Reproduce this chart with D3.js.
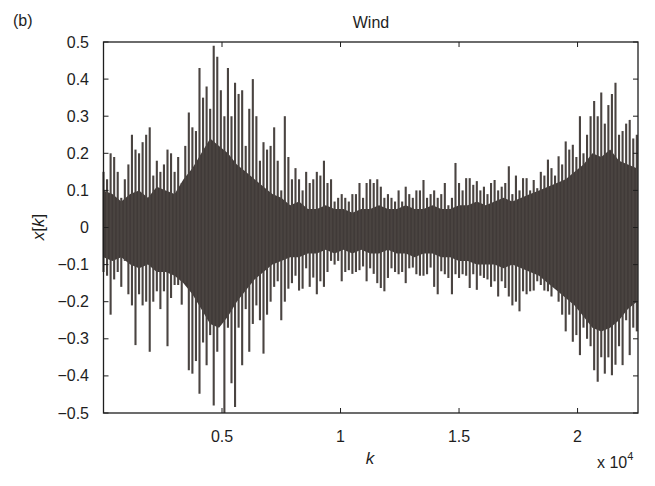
<!DOCTYPE html>
<html><head><meta charset="utf-8">
<script src="https://cdn.jsdelivr.net/npm/d3@7"></script>
<style>
body{margin:0;background:#fff;}
svg text{font-family:"Liberation Sans",Arial,Helvetica,sans-serif;fill:#1e1e1e;}
</style></head>
<body><svg id="c" width="655" height="486"></svg>
<script>
// sample index step for peak arrays (k units)
const peakStep = 150;
// upper spike peaks, k = 0,150,...,22500
const upperPeaks = [0.15,0.13,0.2,0.19,0.15,0.08,0.13,0.17,0.25,0.21,0.2,0.23,0.25,0.27,0.14,0.18,0.15,0.17,0.21,0.2,
0.15,0.19,0.12,0.22,0.31,0.27,0.26,0.43,0.35,0.38,0.32,0.49,0.46,0.37,0.3,0.43,0.3,0.39,0.36,0.37,
0.22,0.32,0.4,0.3,0.18,0.23,0.21,0.22,0.27,0.18,0.1,0.3,0.19,0.13,0.16,0.13,0.1,0.15,0.12,0.13,
0.15,0.14,0.18,0.12,0.13,0.07,0.08,0.09,0.08,0.07,0.09,0.09,0.12,0.08,0.12,0.13,0.12,0.13,0.11,0.08,
0.09,0.08,0.07,0.1,0.07,0.11,0.09,0.08,0.1,0.1,0.128,0.08,0.09,0.1,0.08,0.09,0.12,0.06,0.08,0.174,
0.12,0.1,0.133,0.133,0.115,0.125,0.1,0.11,0.09,0.12,0.128,0.1,0.11,0.12,0.165,0.09,0.14,0.1,0.133,0.133,
0.1,0.128,0.106,0.15,0.14,0.183,0.16,0.14,0.192,0.17,0.232,0.21,0.223,0.19,0.3,0.2,0.25,0.3,0.341,0.3,
0.364,0.28,0.33,0.36,0.39,0.25,0.26,0.28,0.29,0.24,0.25];
// lower spike peaks, same k positions
const lowerPeaks = [-0.12,-0.13,-0.235,-0.14,-0.12,-0.16,-0.09,-0.18,-0.21,-0.317,-0.18,-0.21,-0.2,-0.335,-0.2,-0.172,-0.22,-0.172,-0.32,-0.19,
-0.155,-0.155,-0.208,-0.15,-0.385,-0.394,-0.36,-0.448,-0.31,-0.371,-0.29,-0.48,-0.335,-0.26,-0.5,-0.27,-0.42,-0.484,-0.27,-0.371,
-0.22,-0.335,-0.26,-0.21,-0.25,-0.34,-0.235,-0.2,-0.16,-0.145,-0.25,-0.2,-0.165,-0.15,-0.13,-0.17,-0.165,-0.11,-0.16,-0.135,
-0.18,-0.145,-0.16,-0.12,-0.09,-0.1,-0.09,-0.145,-0.12,-0.115,-0.125,-0.12,-0.115,-0.105,-0.145,-0.11,-0.125,-0.15,-0.163,-0.172,
-0.136,-0.11,-0.12,-0.126,-0.12,-0.15,-0.11,-0.108,-0.126,-0.13,-0.13,-0.126,-0.108,-0.16,-0.18,-0.118,-0.126,-0.136,-0.18,-0.126,
-0.136,-0.126,-0.13,-0.163,-0.126,-0.168,-0.13,-0.136,-0.14,-0.16,-0.145,-0.186,-0.145,-0.163,-0.186,-0.21,-0.2,-0.226,-0.172,-0.18,
-0.172,-0.17,-0.145,-0.155,-0.17,-0.172,-0.186,-0.163,-0.2,-0.235,-0.28,-0.235,-0.308,-0.29,-0.344,-0.27,-0.3,-0.32,-0.385,-0.416,
-0.35,-0.394,-0.35,-0.398,-0.37,-0.32,-0.371,-0.25,-0.344,-0.27,-0.28];
// dense core envelope, k = 0,375,...,22500
const coreStep = 375;
const coreUpper = [0.1,0.09,0.07,0.09,0.1,0.08,0.11,0.1,0.09,0.13,
0.16,0.2,0.24,0.22,0.2,0.17,0.15,0.13,0.11,0.09,
0.08,0.06,0.07,0.05,0.05,0.06,0.05,0.05,0.04,0.05,
0.05,0.06,0.05,0.05,0.06,0.05,0.05,0.06,0.05,0.05,
0.06,0.06,0.07,0.06,0.07,0.08,0.07,0.08,0.09,0.1,
0.11,0.12,0.13,0.15,0.17,0.2,0.19,0.21,0.18,0.17,0.16];
const coreLower = [-0.08,-0.09,-0.08,-0.1,-0.11,-0.1,-0.12,-0.12,-0.13,-0.15,
-0.18,-0.22,-0.26,-0.27,-0.24,-0.2,-0.17,-0.14,-0.12,-0.1,
-0.09,-0.08,-0.08,-0.07,-0.07,-0.06,-0.07,-0.06,-0.07,-0.06,
-0.07,-0.07,-0.06,-0.07,-0.07,-0.08,-0.07,-0.07,-0.08,-0.08,
-0.09,-0.09,-0.1,-0.1,-0.1,-0.11,-0.1,-0.11,-0.12,-0.13,
-0.15,-0.17,-0.19,-0.21,-0.24,-0.27,-0.28,-0.27,-0.25,-0.22,-0.2];
const xTicks = [5000,10000,15000,20000];
const xTickLabels = ["0.5","1","1.5","2"];
const yTicks = [-0.5,-0.4,-0.3,-0.2,-0.1,0,0.1,0.2,0.3,0.4,0.5];
const yTickLabels = ["\u22120.5","\u22120.4","\u22120.3","\u22120.2","\u22120.1","0","0.1","0.2","0.3","0.4","0.5"];

const svg = d3.select("#c");
const L=103.5, R=638, T=42, B=413;
const x = d3.scaleLinear().domain([0,22550]).range([L,R]);
const y = d3.scaleLinear().domain([-0.5,0.5]).range([B,T]);
const sig = "#403a38";

const g = svg.append("g");
// core area
const core = coreUpper.map((u,i)=>({k:i*coreStep,u:u,l:coreLower[i]}));
g.append("path").datum(core)
  .attr("d", d3.area().x(d=>x(d.k)).y0(d=>y(d.l)).y1(d=>y(d.u)).curve(d3.curveLinear))
  .attr("fill", sig);
// spikes
const spikes = upperPeaks.map((u,i)=>({k:i*peakStep,u:u,l:lowerPeaks[i]}));
g.selectAll("line.s").data(spikes).enter().append("line")
  .attr("x1",d=>x(d.k)).attr("x2",d=>x(d.k))
  .attr("y1",d=>y(Math.max(-0.5,d.l))).attr("y2",d=>y(d.u))
  .attr("stroke","#4a4441").attr("stroke-width",2.1);

// frame
const ax = svg.append("g").attr("stroke","#1e1e1e").attr("fill","none");
ax.append("rect").attr("x",L).attr("y",T).attr("width",R-L).attr("height",B-T).attr("stroke-width",1.3);
const tl=5;
xTicks.forEach(t=>{
  ax.append("line").attr("x1",x(t)).attr("x2",x(t)).attr("y1",B).attr("y2",B-tl);
  ax.append("line").attr("x1",x(t)).attr("x2",x(t)).attr("y1",T).attr("y2",T+tl);
});
yTicks.forEach(t=>{
  ax.append("line").attr("x1",L).attr("x2",L+tl).attr("y1",y(t)).attr("y2",y(t));
  ax.append("line").attr("x1",R).attr("x2",R-tl).attr("y1",y(t)).attr("y2",y(t));
});
// labels
xTicks.forEach((t,i)=>{
  svg.append("text").attr("x",x(t)).attr("y",442).attr("text-anchor","middle").attr("font-size",16).text(xTickLabels[i]);
});
yTicks.forEach((t,i)=>{
  svg.append("text").attr("x",89).attr("y",y(t)+5.5).attr("text-anchor","end").attr("font-size",16).text(yTickLabels[i]);
});
svg.append("text").attr("x",370).attr("y",464).attr("text-anchor","middle").attr("font-size",17).attr("font-style","italic").text("k");
const ex = svg.append("text").attr("x",597).attr("y",468).attr("font-size",16);
ex.append("tspan").text("x 10");
ex.append("tspan").attr("dy",-8).attr("font-size",11).text("4");
svg.append("text").attr("x",371).attr("y",28).attr("text-anchor","middle").attr("font-size",16).text("Wind");
svg.append("text").attr("x",13).attr("y",26).attr("font-size",16).text("(b)");
const yl = svg.append("text").attr("transform","translate(44,227) rotate(-90)").attr("text-anchor","middle").attr("font-size",17);
yl.append("tspan").attr("font-style","italic").text("x");
yl.append("tspan").text("[");
yl.append("tspan").attr("font-style","italic").text("k");
yl.append("tspan").text("]");
</script></body></html>
